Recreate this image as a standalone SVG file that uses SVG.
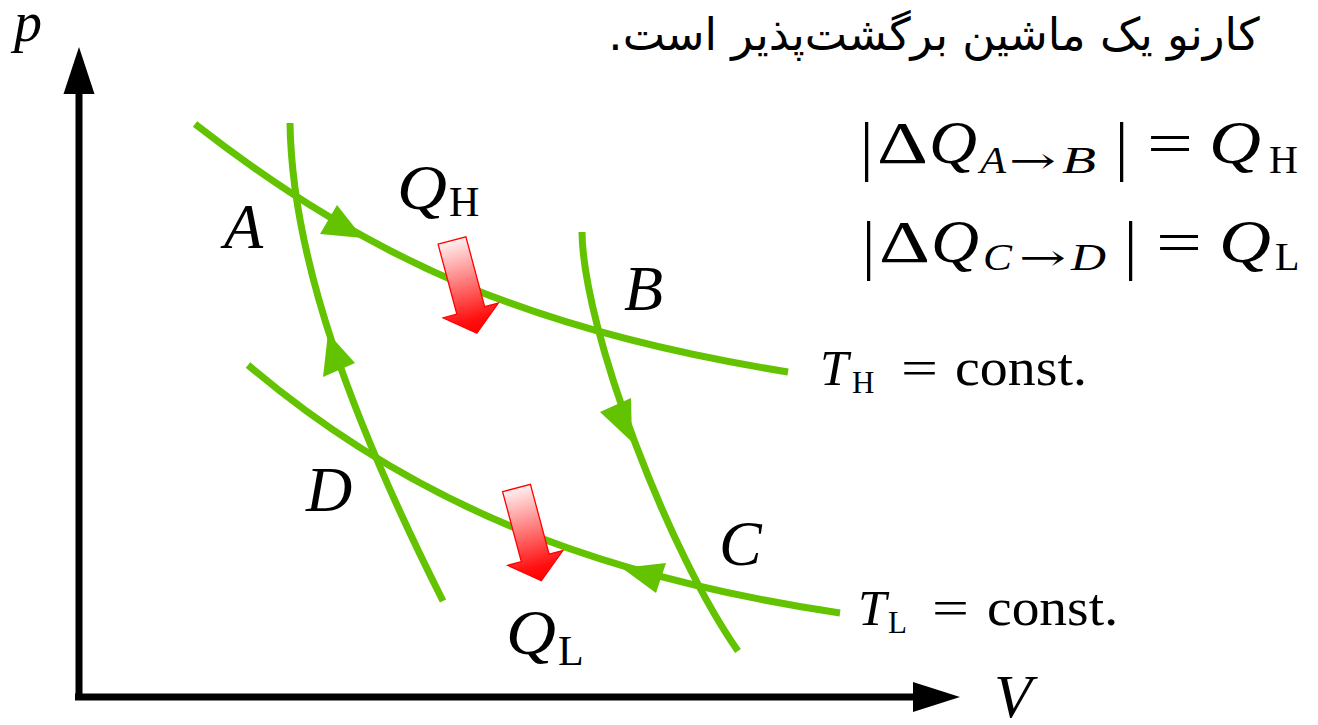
<svg xmlns="http://www.w3.org/2000/svg" width="1318" height="725" viewBox="0 0 1318 725">
<style>
.curve{fill:none;stroke:#63c300;stroke-width:7;stroke-linecap:butt}
.ahead{fill:#63c300;stroke:none}
.axis{fill:none;stroke:#000;stroke-width:7}
.axhead{fill:#000}
.heat{fill:url(#redgrad);stroke:#ff0000;stroke-width:1.3;stroke-linejoin:miter}
.mi{font-family:"Liberation Serif","DejaVu Serif",serif;font-style:italic;fill:#000}
.mr{font-family:"Liberation Serif","DejaVu Serif",serif;font-style:normal;fill:#000}
.ar{font-family:"DejaVu Serif","Liberation Serif",serif;font-style:normal;fill:#000}
.fa{font-family:"DejaVu Sans","Noto Sans",sans-serif;fill:#000}
</style>
<defs>
<linearGradient id="redgrad" x1="0" y1="0" x2="0" y2="1">
<stop offset="0" stop-color="#fff0f0"/>
<stop offset="0.85" stop-color="#ff1010"/>
<stop offset="1" stop-color="#ff0000"/>
</linearGradient>
<path id="heatarrow" d="M-14.4,0 L14.4,0 L14.4,72.4 L28.5,72.4 L0,96 L-28.5,72.4 L-14.4,72.4 Z"/>
</defs>
<rect width="1318" height="725" fill="#fff"/>

<g id="axes">
<line class="axis" x1="79" y1="700" x2="79" y2="90"/>
<polygon class="axhead" points="79,47 63.5,94 94.5,94"/>
<line class="axis" x1="75" y1="697" x2="916" y2="697"/>
<polygon class="axhead" points="960,697 913,682 913,712"/>
<text id="label-p" class="mi" x="14" y="41" font-size="56">p</text>
<text id="label-V" class="mi" x="994" y="717" font-size="62">V</text>
</g>

<g id="connectors">
<path id="isotherm-H" class="curve" d="M195,124 C375,264.4 538,332 788,372"/>
<path id="isotherm-L" class="curve" d="M248,365 C408,501 590,575.5 840,613"/>
<path id="adiabat-DA" class="curve" d="M290,123 C292,260 352,420 443,601"/>
<path id="adiabat-BC" class="curve" d="M582,232 C583,330 670,555 738,651"/>
<polygon class="ahead" points="363,238 320,234 337,205"/>
<polygon class="ahead" points="328,333 323,377 355,363"/>
<polygon class="ahead" points="632,442 600,412 631,398"/>
<polygon class="ahead" points="622,568 666,563 656,593"/>
</g>

<g id="heat-QH">
<use href="#heatarrow" class="heat" transform="translate(452,240.5) rotate(-15)"/>
</g>
<g id="heat-QL">
<use href="#heatarrow" class="heat" transform="translate(516.5,488) rotate(-15)"/>
</g>

<g id="node-A"><text class="mi" x="224" y="248" font-size="64">A</text></g>
<g id="node-B"><text class="mi" x="624" y="310" font-size="64">B</text></g>
<g id="node-C"><text class="mi" x="719" y="565" font-size="64">C</text></g>
<g id="node-D"><text class="mi" x="306" y="511" font-size="64">D</text></g>

<g id="label-QH">
<text class="mi" x="397" y="209" font-size="64" textLength="50" lengthAdjust="spacingAndGlyphs">Q</text>
<text class="mr" x="449" y="216" font-size="42">H</text>
</g>
<g id="label-QL">
<text class="mi" x="506" y="654" font-size="64" textLength="50" lengthAdjust="spacingAndGlyphs">Q</text>
<text class="mr" x="558" y="665" font-size="42">L</text>
</g>

<g id="label-TH">
<text class="mi" x="820" y="385" font-size="51">T</text>
<text class="mr" x="852" y="393" font-size="31">H</text>
<text class="mr" x="901" y="385" font-size="51" textLength="37" lengthAdjust="spacingAndGlyphs">=</text>
<text class="mr" x="955" y="385" font-size="53" textLength="132" lengthAdjust="spacingAndGlyphs">const.</text>
</g>
<g id="label-TL">
<text class="mi" x="858" y="625" font-size="51">T</text>
<text class="mr" x="888" y="633" font-size="31">L</text>
<text class="mr" x="932" y="625" font-size="51" textLength="37" lengthAdjust="spacingAndGlyphs">=</text>
<text class="mr" x="987" y="625" font-size="53" textLength="131" lengthAdjust="spacingAndGlyphs">const.</text>
</g>

<g id="title">
<text class="fa" x="934" y="50" font-size="45" text-anchor="middle" direction="rtl">کارنو یک ماشین برگشت‌پذیر است.</text>
</g>

<g id="eq-AB">
<text class="mr" x="860" y="168" font-size="66">|</text>
<text class="mr" x="877" y="163" font-size="60" textLength="51" lengthAdjust="spacingAndGlyphs">Δ</text>
<text class="mi" x="929" y="163" font-size="62" textLength="48" lengthAdjust="spacingAndGlyphs">Q</text>
<text class="mi" x="980" y="173" font-size="37" textLength="26" lengthAdjust="spacingAndGlyphs">A</text>
<text class="ar" x="1009" y="173" font-size="36" textLength="47" lengthAdjust="spacingAndGlyphs">→</text>
<text class="mi" x="1062" y="173" font-size="37" textLength="34" lengthAdjust="spacingAndGlyphs">B</text>
<text class="mr" x="1115" y="168" font-size="66">|</text>
<text class="mr" x="1147" y="163" font-size="60" textLength="46" lengthAdjust="spacingAndGlyphs">=</text>
<text class="mi" x="1209" y="163" font-size="62" textLength="52" lengthAdjust="spacingAndGlyphs">Q</text>
<text class="mr" x="1269" y="173" font-size="40">H</text>
</g>
<g id="eq-CD">
<text class="mr" x="862" y="267" font-size="66">|</text>
<text class="mr" x="879" y="262" font-size="60" textLength="51" lengthAdjust="spacingAndGlyphs">Δ</text>
<text class="mi" x="931" y="262" font-size="62" textLength="48" lengthAdjust="spacingAndGlyphs">Q</text>
<text class="mi" x="983" y="270" font-size="37" textLength="29" lengthAdjust="spacingAndGlyphs">C</text>
<text class="ar" x="1019" y="270" font-size="36" textLength="47" lengthAdjust="spacingAndGlyphs">→</text>
<text class="mi" x="1071" y="270" font-size="37" textLength="35" lengthAdjust="spacingAndGlyphs">D</text>
<text class="mr" x="1124" y="267" font-size="66">|</text>
<text class="mr" x="1156" y="262" font-size="60" textLength="46" lengthAdjust="spacingAndGlyphs">=</text>
<text class="mi" x="1219" y="262" font-size="62" textLength="52" lengthAdjust="spacingAndGlyphs">Q</text>
<text class="mr" x="1275" y="270" font-size="40">L</text>
</g>
</svg>
